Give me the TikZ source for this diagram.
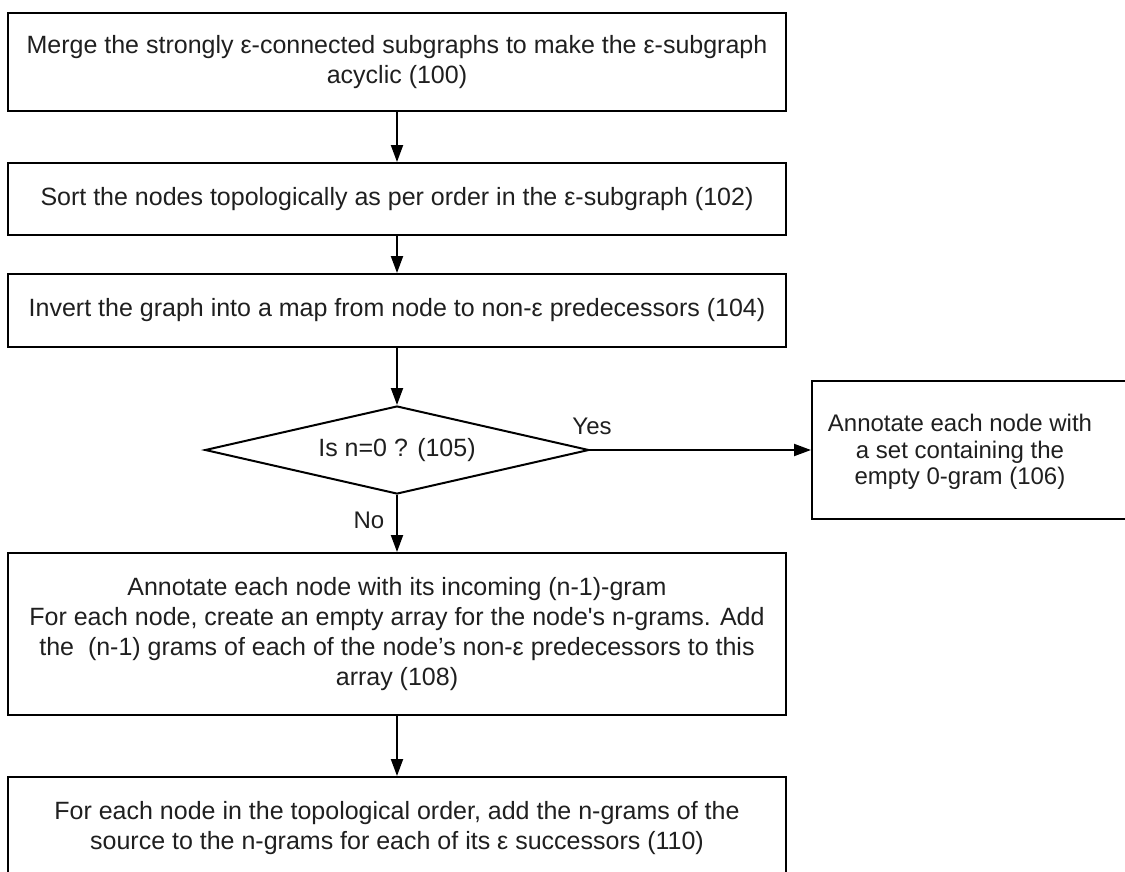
\documentclass[tikz,border=0pt]{standalone}
\usepackage{fontspec}
\setmainfont{Liberation Sans}[Ligatures=TeXOff]
\usetikzlibrary{shapes.geometric,arrows.meta}
\begin{document}
\begin{tikzpicture}[x=1pt,y=-1pt,
  box/.style={draw, line width=2pt, rectangle, align=center, inner sep=0pt, text=black!88, font=\fontsize{25}{30}\selectfont},
  arr/.style={line width=2pt, -{Triangle[length=17pt,width=12pt]}},
  lbl/.style={text=black!88, font=\fontsize{24}{28}\selectfont}]
\useasboundingbox (0,0) rectangle (1125,871);
\clip (0,0) rectangle (1125,871);

\node[box, minimum width=778pt, minimum height=98pt] (b100) at (397,62)
  {Merge the strongly ε-connected subgraphs to make the ε-subgraph\\acyclic (100)};
\node[box, minimum width=778pt, minimum height=72pt] (b102) at (397,199)
  {Sort the nodes topologically as per order in the ε-subgraph (102)};
\node[box, minimum width=778pt, minimum height=73pt] (b104) at (397,310.5)
  {Invert the graph into a map from node to non-ε predecessors (104)};
\node[draw, line width=2pt, diamond, aspect=4.36, minimum width=384pt, minimum height=88pt,
  inner sep=0pt, text=black!88, font=\fontsize{25}{30}\selectfont] (d105) at (397,450) {Is n=0 ? (105)};
\node[draw, line width=2pt, rectangle, minimum width=318pt, minimum height=138pt] (b106) at (971,450) {};
\node[align=center, text=black!88, font=\fontsize{24}{26.5}\selectfont] (t106) at (960,452)
  {Annotate each node with\\a set containing the\\empty 0-gram (106)};
\node[box, minimum width=778pt, minimum height=162pt] (b108) at (397,634)
  {Annotate each node with its incoming (n-1)-gram\\
   For each node, create an empty array for the node's n-grams. Add\\
   the\ \ (n-1) grams of each of the node’s non-ε predecessors to this\\
   array (108)};
\node[box, minimum width=778pt, minimum height=102pt] (b110) at (397,828)
  {For each node in the topological order, add the n-grams of the\\
   source to the n-grams for each of its ε successors (110)};

\draw[arr] (b100) -- (b102);
\draw[arr] (b102) -- (b104);
\draw[arr] (b104) -- (d105);
\draw[arr] (d105) -- (b108);
\draw[arr] (b108) -- (b110);
\draw[arr] (d105) -- (b106);

\node[lbl] (yes) at (592,426) {Yes};
\node[lbl] (no) at (369,520) {No};
\end{tikzpicture}
\end{document}
